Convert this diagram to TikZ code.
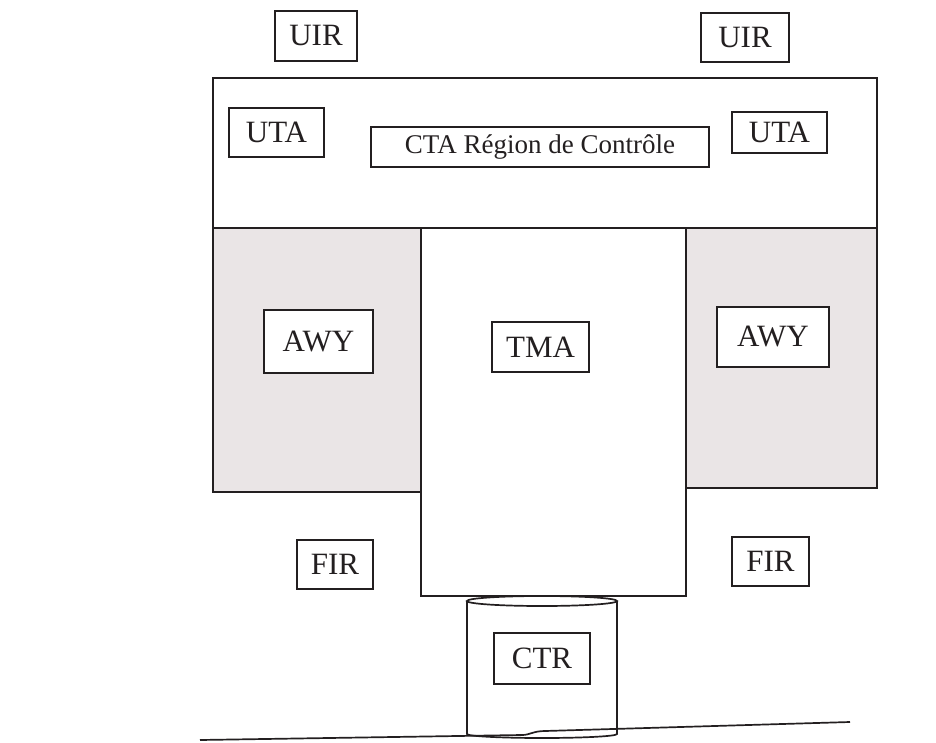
\documentclass[tikz,border=0pt]{standalone}
\usepackage{fontspec}
\setmainfont{Liberation Serif}
\usepackage{xcolor}
\usetikzlibrary{positioning}
\definecolor{ZoneInk}{HTML}{231F20}
\definecolor{ZoneShade}{HTML}{EAE5E6}

\begin{document}
\begin{tikzpicture}[
    x=1pt, y=-1pt,
    line width=1.7pt,
    draw=ZoneInk,
    zone/.style={
      draw=ZoneInk,
      line width=1.7pt,
      inner sep=0pt,
      anchor=north west,
    },
    tag/.style={
      draw=ZoneInk,
      fill=white,
      line width=1.7pt,
      inner sep=0pt,
      text=ZoneInk,
      font=\fontsize{31}{34}\selectfont,
    },
  ]
    \useasboundingbox (0,0) rectangle (936,743);

    % airspace blocks
    \node[zone, minimum width=664pt, minimum height=150pt] (cta) at (212,77) {};
    \node[zone, fill=ZoneShade, minimum width=208pt, minimum height=264pt] (awyL) at (212,227) {};
    \node[zone, fill=ZoneShade, minimum width=192pt, minimum height=260pt] (awyR) at (684,227) {};
    \node[zone, fill=white, minimum width=265pt, minimum height=368pt] (tma) at (420,227) {};

    % labels
    \node[tag, minimum width=82pt, minimum height=50pt] (uirL) at (316,36) {UIR};
    \node[tag, minimum width=88pt, minimum height=49pt] (uirR) at (745,37.5) {UIR};
    \node[tag, minimum width=95pt, minimum height=49pt] (utaL) at (276.5,132.5) {UTA};
    \node[tag, minimum width=95pt, minimum height=41pt] (utaR) at (779.5,132.5) {UTA};
    \node[tag, minimum width=338pt, minimum height=40pt,
      font=\fontsize{27}{30}\selectfont] (ctaTag) at (540,147) {CTA Région de Contrôle};
    \node[tag, minimum width=109pt, minimum height=63pt] (awyLTag) at (318.5,341.5) {AWY};
    \node[tag, minimum width=97pt, minimum height=50pt] (tmaTag) at (540.5,347) {TMA};
    \node[tag, minimum width=112pt, minimum height=60pt] (awyRTag) at (773,337) {AWY};
    \node[tag, minimum width=76pt, minimum height=49pt] (firL) at (335,564.5) {FIR};
    \node[tag, minimum width=77pt, minimum height=49pt] (firR) at (770.5,561.5) {FIR};

    % CTR cylinder
    \draw (467,601) -- (467,734) arc[start angle=180, end angle=360, x radius=75pt, y radius=4pt] -- (617,601);
    \draw (542,601) ellipse [x radius=75pt, y radius=5pt];
    \node[tag, minimum width=96pt, minimum height=51pt] (ctrTag) at (542,658.5) {CTR};

    % ground
    \draw (200,740) -- (522,735) .. controls (530,735) and (533,731) .. (545,731) -- (850,722);
  \end{tikzpicture}
\end{document}
